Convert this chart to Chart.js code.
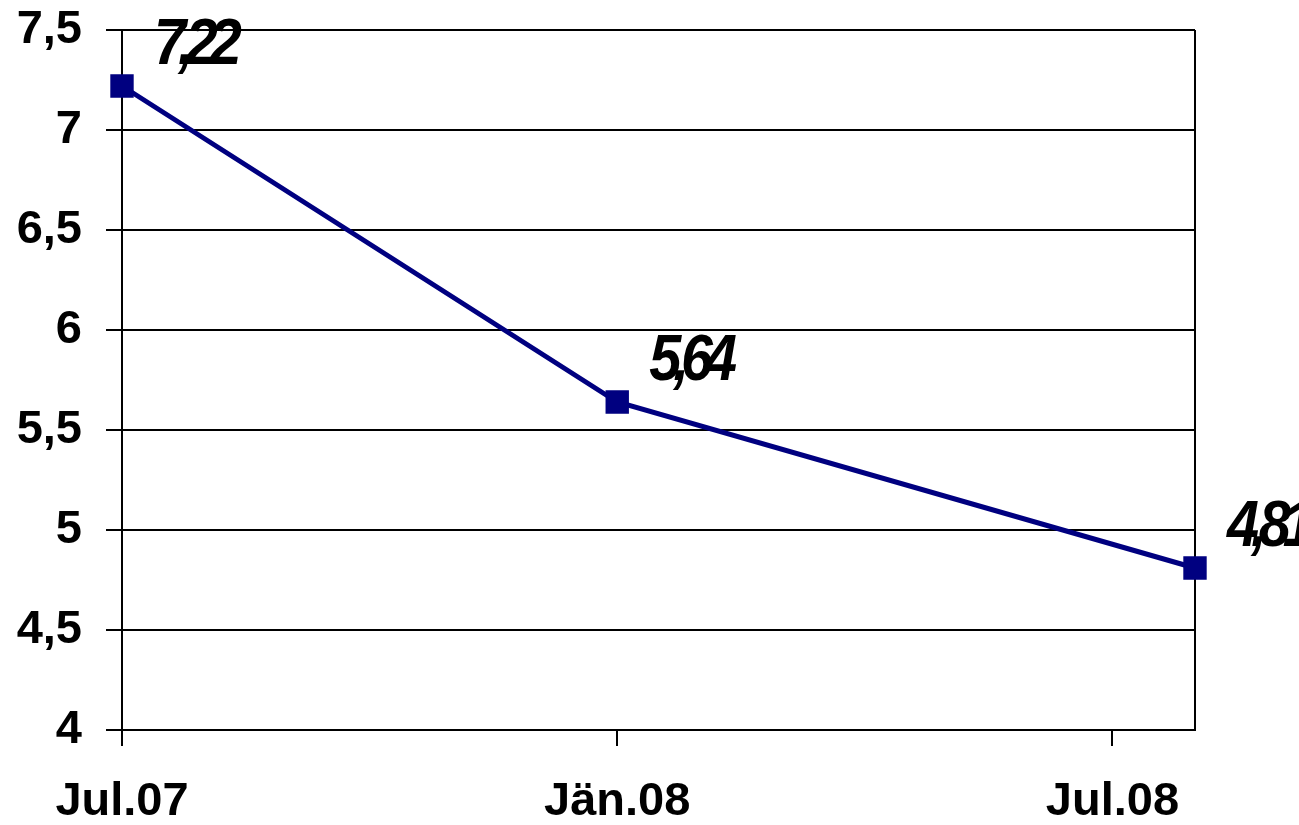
<!DOCTYPE html>
<html>
<head>
<meta charset="utf-8">
<script src="https://cdn.jsdelivr.net/npm/chart.js@4"></script>
<style>
  html, body { margin: 0; padding: 0; background: #fff; }
  #wrap { width: 1299px; height: 825px; }
</style>
</head>
<body>
<div id="wrap"><canvas id="LineChart"></canvas></div>
<script>
// months counted from Jul.07
const tickLabels = ['Jul.07', 'Jän.08', 'Jul.08'];
const tickMonths = [0, 6, 12];
const pointMonths = [0, 6, 13];
const values = [7.22, 5.64, 4.81];
const yTicks = [4, 4.5, 5, 5.5, 6, 6.5, 7, 7.5];

const points = pointMonths.map((m, i) => ({ x: m, y: values[i] }));

const valueLabels = {
  id: 'valueLabels',
  afterDatasetsDraw(chart) {
    const { ctx } = chart;
    const meta = chart.getDatasetMeta(0);
    ctx.save();
    ctx.font = 'italic bold 64px "Liberation Sans", Arial, sans-serif';
    ctx.fillStyle = '#000';
    ctx.textAlign = 'left';
    ctx.textBaseline = 'middle';
    ctx.letterSpacing = '-9px';
    meta.data.forEach((pt, i) => {
      const txt = values[i].toFixed(2).replace('.', ',');
      ctx.save();
      ctx.translate(pt.x + 32, pt.y - 40);
      ctx.scale(0.9, 1);
      ctx.fillText(txt, 0, 0);
      ctx.restore();
    });
    ctx.restore();
  }
};

const frame = {
  id: 'frame',
  beforeDatasetsDraw(chart) {
    const { ctx, chartArea } = chart;
    ctx.save();
    ctx.strokeStyle = '#000';
    ctx.lineWidth = 2;
    ctx.beginPath();
    ctx.moveTo(chartArea.right, chartArea.top);
    ctx.lineTo(chartArea.right, chartArea.bottom);
    ctx.stroke();
    ctx.restore();
  }
};

const tickFont = { family: '"Liberation Sans", Arial, sans-serif', size: 47, weight: 'bold' };

new Chart(document.getElementById('LineChart').getContext('2d'), {
  type: 'scatter',
  data: {
    datasets: [{
      data: points,
      showLine: true,
      clip: false,
      borderColor: '#000080',
      backgroundColor: '#000080',
      borderWidth: 5,
      pointStyle: 'rect',
      pointRadius: 13,
      pointHoverRadius: 13
    }]
  },
  options: {
    responsive: true,
    maintainAspectRatio: false,
    animation: false,
    layout: { padding: { top: 2, right: 104, left: 0, bottom: 0 } },
    plugins: { legend: { display: false }, tooltip: { enabled: false } },
    scales: {
      x: {
        type: 'linear',
        min: 0,
        max: 13,
        afterBuildTicks(axis) { axis.ticks = tickMonths.map(v => ({ value: v })); },
        afterFit(axis) { axis.height = 95; axis.paddingLeft = 0; axis.paddingRight = 0; },
        ticks: {
          color: '#000',
          font: tickFont,
          padding: 28,
          maxRotation: 0,
          autoSkip: false,
          callback(v) { return tickLabels[tickMonths.indexOf(v)]; }
        },
        grid: { drawOnChartArea: false, drawTicks: true, tickLength: 16, color: '#000', lineWidth: 2 },
        border: { color: '#000', width: 2 }
      },
      y: {
        min: 4,
        max: 7.5,
        afterBuildTicks(axis) { axis.ticks = yTicks.map(v => ({ value: v })); },
        afterFit(axis) { axis.width = 122; axis.paddingTop = 30; axis.paddingBottom = 0; },
        ticks: {
          color: '#000',
          font: tickFont,
          padding: 24,
          callback(v) { return String(v).replace('.', ','); }
        },
        grid: { color: '#000', lineWidth: 2, tickLength: 16 },
        border: { color: '#000', width: 2 }
      }
    }
  },
  plugins: [frame, valueLabels]
});
</script>
</body>
</html>
